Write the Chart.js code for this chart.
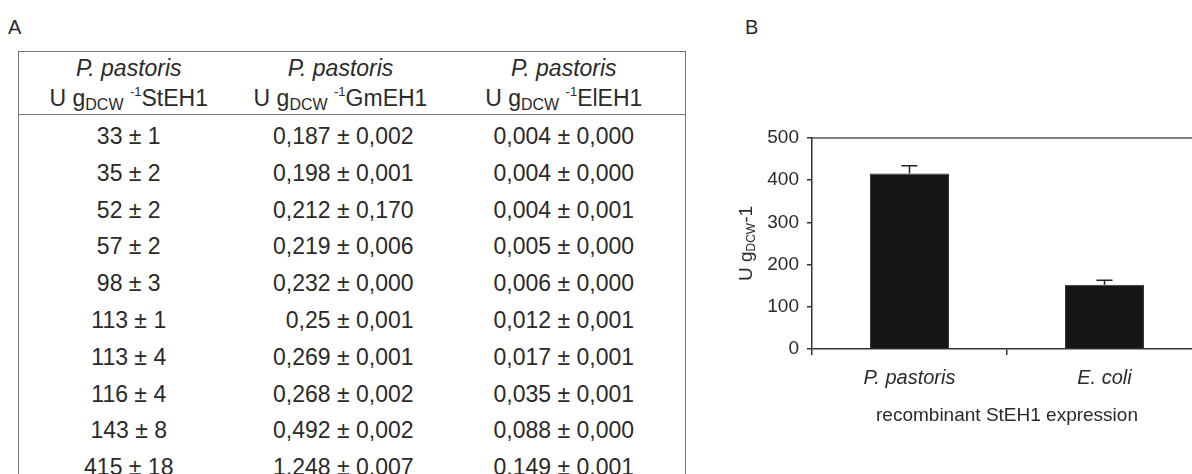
<!DOCTYPE html>
<html>
<head>
<meta charset="utf-8">
<script src="https://cdn.jsdelivr.net/npm/chart.js@4.4.1/dist/chart.umd.min.js"></script>
<style>
  html, body { margin: 0; padding: 0; background: #fff; }
  body { width: 1192px; height: 474px; overflow: hidden; position: relative;
         font-family: "Liberation Sans", Arial, sans-serif; color: #2a2a2a; }
  .panel-label { position: absolute; font-size: 20px; line-height: 20px; }
  #tbl { position: absolute; left: 18px; top: 51px; width: 667px; border-collapse: collapse;
         table-layout: fixed; border: 1.5px solid #777; font-size: 23px; }
  #tbl th { font-weight: normal; padding: 1px 0 1px; line-height: 30px; height: 60px;
            border-bottom: 1.5px solid #777; text-align: center; white-space: nowrap; }
  #tbl th i { font-style: italic; }
  #tbl sub { font-size: 16px; vertical-align: -4px; line-height: 0; }
  #tbl sup { font-size: 13px; vertical-align: 10px; line-height: 0; }
  #tbl td { padding: 7px 0 0; line-height: 29.8px; height: 29.8px; white-space: nowrap; text-align: center; }
  #tbl td.c2 { text-align: right; padding-right: 29px; }
  #chart-wrap { position: absolute; left: 700px; top: 0; width: 520px; height: 474px; }
</style>
</head>
<body>
<div class="panel-label" style="left:8px; top:17px;">A</div>
<div class="panel-label" style="left:745px; top:17px;">B</div>

<table id="tbl">
  <colgroup><col style="width:220px"><col style="width:204px"><col style="width:243px"></colgroup>
  <thead>
    <tr>
      <th><i>P. pastoris</i><br>U g<sub>DCW</sub> <sup>-1</sup>StEH1</th>
      <th><i>P. pastoris</i><br>U g<sub>DCW</sub> <sup>-1</sup>GmEH1</th>
      <th><i>P. pastoris</i><br>U g<sub>DCW</sub> <sup>-1</sup>ElEH1</th>
    </tr>
  </thead>
  <tbody id="tbl-body"></tbody>
</table>

<div id="chart-wrap"><canvas id="bar-chart" width="520" height="474"></canvas></div>

<script>
  // table A
  const stEH1 = ['33 ± 1', '35 ± 2', '52 ± 2', '57 ± 2', '98 ± 3', '113 ± 1', '113 ± 4', '116 ± 4', '143 ± 8', '415 ± 18'];
  const gmEH1 = ['0,187 ± 0,002', '0,198 ± 0,001', '0,212 ± 0,170', '0,219 ± 0,006', '0,232 ± 0,000',
                 '0,25 ± 0,001', '0,269 ± 0,001', '0,268 ± 0,002', '0,492 ± 0,002', '1,248 ± 0,007'];
  const elEH1 = ['0,004 ± 0,000', '0,004 ± 0,000', '0,004 ± 0,001', '0,005 ± 0,000', '0,006 ± 0,000',
                 '0,012 ± 0,001', '0,017 ± 0,001', '0,035 ± 0,001', '0,088 ± 0,000', '0,149 ± 0,001'];

  // chart B
  const hosts = ['P. pastoris', 'E. coli'];
  const activity = [416, 152];
  const activityErr = [18, 11];
  const yTicks = [0, 100, 200, 300, 400, 500];

  const tbody = document.getElementById('tbl-body');
  stEH1.forEach((v, i) => {
    const tr = document.createElement('tr');
    [[v, 'c1'], [gmEH1[i], 'c2'], [elEH1[i], 'c3']].forEach(([text, cls]) => {
      const td = document.createElement('td');
      td.className = cls;
      td.textContent = text;
      tr.append(td);
    });
    tbody.append(tr);
  });

  const axisColor = '#333';
  const textColor = '#2a2a2a';
  const fontFamily = '"Liberation Sans", Arial, sans-serif';

  const errorBars = {
    id: 'errorBars',
    afterDatasetsDraw(chart) {
      const ctx = chart.ctx;
      const meta = chart.getDatasetMeta(0);
      const y = chart.scales.y;
      ctx.save();
      ctx.strokeStyle = '#222';
      ctx.lineWidth = 1.5;
      meta.data.forEach((bar, i) => {
        const top = y.getPixelForValue(activity[i] + activityErr[i]);
        const base = y.getPixelForValue(activity[i]);
        ctx.beginPath();
        ctx.moveTo(bar.x, base);
        ctx.lineTo(bar.x, top);
        ctx.moveTo(bar.x - 8, top);
        ctx.lineTo(bar.x + 8, top);
        ctx.stroke();
      });
      ctx.restore();
    }
  };

  const frameTop = {
    id: 'frameTop',
    afterDraw(chart) {
      const {ctx, chartArea} = chart;
      ctx.save();
      ctx.strokeStyle = '#555';
      ctx.lineWidth = 1.5;
      ctx.beginPath();
      ctx.moveTo(chartArea.left, chartArea.top);
      ctx.lineTo(chart.width, chartArea.top);
      ctx.stroke();
      ctx.restore();
    }
  };

  // y title with subscript
  const yTitle = {
    id: 'yTitle',
    afterDraw(chart) {
      const {ctx, chartArea} = chart;
      const cy = (chartArea.top + chartArea.bottom) / 2;
      const parts = [
        {t: 'U g', size: 19, dy: 0},
        {t: 'DCW', size: 12, dy: 3},
        {t: '-1', size: 19, dy: 0},
      ];
      ctx.save();
      ctx.fillStyle = textColor;
      ctx.textBaseline = 'alphabetic';
      let total = 0;
      parts.forEach(p => { ctx.font = p.size + 'px ' + fontFamily; p.w = ctx.measureText(p.t).width; total += p.w; });
      ctx.translate(52, cy);
      ctx.rotate(-Math.PI / 2);
      let x = -total / 2;
      parts.forEach(p => {
        ctx.font = p.size + 'px ' + fontFamily;
        ctx.fillText(p.t, x, p.dy);
        x += p.w;
      });
      ctx.restore();
    }
  };

  new Chart(document.getElementById('bar-chart'), {
    type: 'bar',
    data: {
      labels: hosts,
      datasets: [{
        data: activity,
        backgroundColor: '#151517',
        borderColor: '#333',
        borderWidth: 1,
        categoryPercentage: 1,
        barPercentage: 0.405,
      }],
    },
    options: {
      responsive: false,
      animation: false,
      layout: { padding: { top: 138, left: 0, right: 18, bottom: 0 } },
      plugins: { legend: { display: false }, tooltip: { enabled: false } },
      scales: {
        x: {
          afterFit(scale) { scale.height = 125; },
          grid: { offset: true, drawOnChartArea: false, drawTicks: true, tickLength: 6, tickColor: axisColor, lineWidth: 1.5 },
          border: { display: true, color: axisColor, width: 1.5 },
          ticks: { color: textColor, padding: 11, font: { family: fontFamily, size: 20, style: 'italic' } },
          title: {
            display: true,
            text: 'recombinant StEH1 expression',
            color: textColor,
            padding: { top: 0, bottom: 47 },
            font: { family: fontFamily, size: 19 },
          },
        },
        y: {
          min: 0,
          max: 500,
          afterFit(scale) { scale.width = 112; },
          afterBuildTicks(scale) { scale.ticks = yTicks.map(v => ({ value: v })); },
          grid: { drawOnChartArea: false, drawTicks: true, tickLength: 5, tickColor: axisColor, lineWidth: 1.5 },
          border: { display: true, color: axisColor, width: 1.5 },
          ticks: { color: textColor, padding: 8, font: { family: fontFamily, size: 19 } },
        },
      },
    },
    plugins: [errorBars, frameTop, yTitle],
  });
</script>
</body>
</html>
